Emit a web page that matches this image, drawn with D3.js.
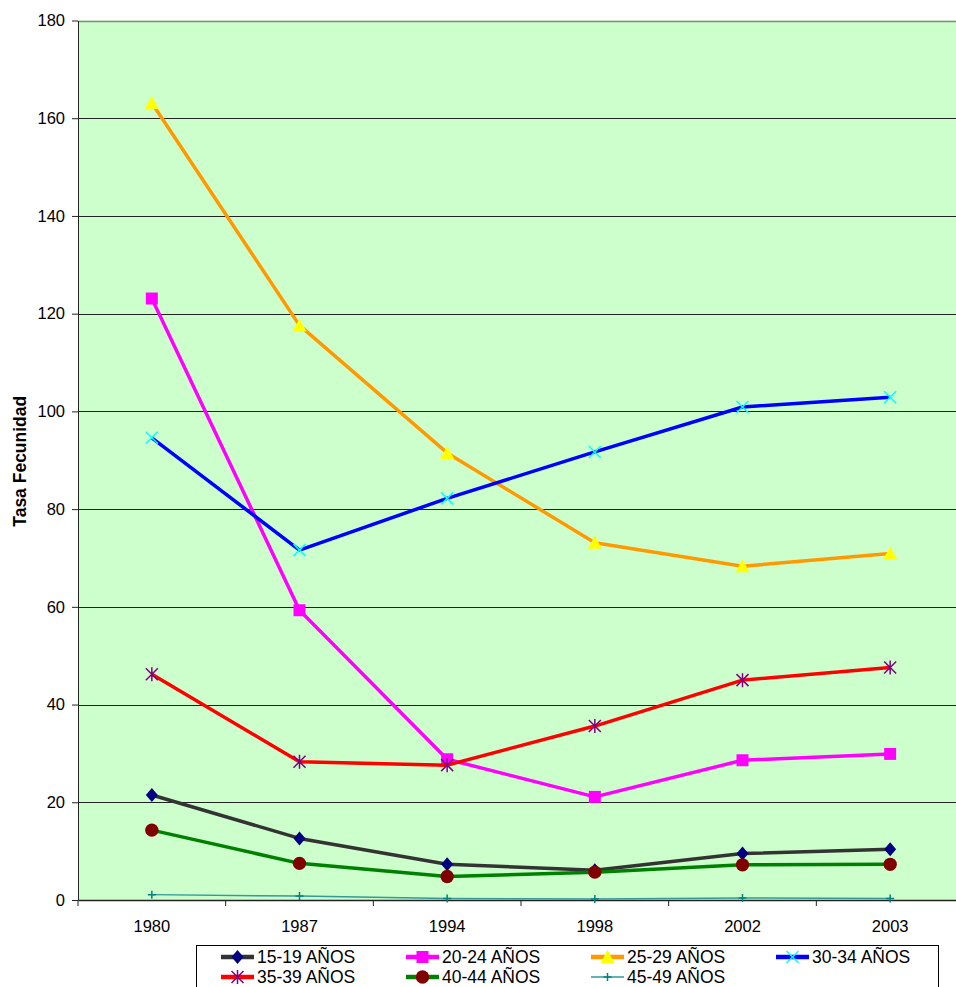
<!DOCTYPE HTML>
<html>

<head>
  <meta charset="utf-8">
  <title>Tasa Fecunidad</title>
  <script src="https://d3js.org/d3.v7.min.js"></script>
  <style>
    body { margin: 0; background: #fff; }
    text { font-family: "Liberation Sans", Arial, sans-serif; }
  </style>
</head>

<body>

  <script>
    const categories = ['1980', '1987', '1994', '1998', '2002', '2003'];

    // tasas por grupo de edad
    const s1519 = [21.5, 12.6, 7.3, 6.1, 9.5, 10.4];
    const s2024 = [123.1, 59.3, 28.8, 21.1, 28.6, 29.9];
    const s2529 = [163.1, 117.6, 91.5, 73.1, 68.3, 70.9];
    const s3034 = [94.6, 71.6, 82.2, 91.7, 100.9, 102.9];
    const s3539 = [46.2, 28.3, 27.6, 35.6, 45.0, 47.6];
    const s4044 = [14.3, 7.5, 4.8, 5.7, 7.2, 7.3];
    const s4549 = [1.1, 0.8, 0.3, 0.2, 0.4, 0.3];

    const seriesNames = ['15-19 AÑOS', '20-24 AÑOS', '25-29 AÑOS', '30-34 AÑOS', '35-39 AÑOS', '40-44 AÑOS', '45-49 AÑOS'];
    const yTicks = [0, 20, 40, 60, 80, 100, 120, 140, 160, 180];

    const styles = [
      { line: '#333333', width: 3.5, marker: 'diamond', fill: '#000080' },
      { line: '#ff00ff', width: 3.5, marker: 'square', fill: '#ff00ff' },
      { line: '#ff9900', width: 3.5, marker: 'triangle', fill: '#ffff00' },
      { line: '#0000ff', width: 3.5, marker: 'x', fill: '#00ffff' },
      { line: '#ff0000', width: 3.5, marker: 'star', fill: '#800080' },
      { line: '#008000', width: 3.5, marker: 'circle', fill: '#800000' },
      { line: '#339999', width: 1.5, marker: 'plus', fill: '#008080' },
    ];

    const series = [s1519, s2024, s2529, s3034, s3539, s4044, s4549].map((v, i) => ({
      name: seriesNames[i],
      values: v,
      style: styles[i],
    }));

    const W = 956, H = 987;
    const plot = { left: 78, top: 20.5, right: 964, bottom: 900 };

    const svg = d3.select('body').append('svg')
      .attr('width', W)
      .attr('height', H);

    const x = d3.scaleBand()
      .domain(categories)
      .range([plot.left, plot.right]);

    const y = d3.scaleLinear()
      .domain([0, 180])
      .range([plot.bottom, plot.top]);

    // fondo
    svg.append('rect')
      .attr('x', plot.left)
      .attr('y', plot.top)
      .attr('width', plot.right - plot.left)
      .attr('height', plot.bottom - plot.top)
      .attr('fill', '#ccffcc');

    // lineas de grilla
    svg.selectAll('line.grid')
      .data(yTicks.filter(d => d > 0))
      .enter()
      .append('line')
      .attr('class', 'grid')
      .attr('x1', plot.left)
      .attr('x2', plot.right)
      .attr('y1', d => Math.round(y(d)) + 0.5)
      .attr('y2', d => Math.round(y(d)) + 0.5)
      .attr('stroke', d => d === 180 ? '#888888' : '#222222')
      .attr('stroke-width', d => d === 180 ? 1.5 : 1);

    // eje Y
    const yAxis = svg.append('g')
      .attr('transform', `translate(${plot.left},0)`)
      .call(d3.axisLeft(y).tickValues(yTicks).tickSize(6).tickPadding(7).tickSizeOuter(0));
    yAxis.select('.domain').attr('stroke', '#222');
    yAxis.selectAll('.tick line').attr('stroke', '#222');
    yAxis.selectAll('text').attr('font-size', 16.5).attr('fill', '#000');

    // eje X: etiquetas en el centro, marcas entre categorias
    const xAxis = svg.append('g')
      .attr('transform', `translate(0,${plot.bottom})`)
      .call(d3.axisBottom(x).tickSize(0).tickPadding(20).tickSizeOuter(0));
    xAxis.select('.domain').attr('stroke', '#222').attr('stroke-width', 1.5);
    xAxis.selectAll('text').attr('font-size', 16.5).attr('fill', '#000');

    svg.selectAll('line.xtick')
      .data(categories)
      .enter()
      .append('line')
      .attr('class', 'xtick')
      .attr('x1', d => x(d))
      .attr('x2', d => x(d))
      .attr('y1', plot.bottom)
      .attr('y2', plot.bottom + 6)
      .attr('stroke', '#222');

    svg.append('text')
      .attr('transform', `translate(26,${(plot.top + plot.bottom) / 2 + 1}) rotate(-90)`)
      .attr('text-anchor', 'middle')
      .attr('font-size', 17.5)
      .attr('font-weight', 'bold')
      .text('Tasa Fecunidad');

    // marcadores
    const markerPath = (type) => {
      switch (type) {
        case 'diamond': return 'M0,-7L6,0L0,7L-6,0Z';
        case 'square': return 'M-6,-6H6V6H-6Z';
        case 'triangle': return 'M0,-7L7,6H-7Z';
        case 'circle': return d3.symbol(d3.symbolCircle, 140)();
        case 'x': return 'M-6,-6L6,6M-6,6L6,-6';
        case 'star': return 'M-6,-6L6,6M-6,6L6,-6M0,-7V7';
        case 'plus': return 'M-4,0H4M0,-4V4';
      }
    };
    const strokeMarker = t => t === 'x' || t === 'star' || t === 'plus';

    const cx = i => x(categories[i]) + x.bandwidth() / 2;

    const line = d3.line()
      .x((d, i) => cx(i))
      .y(d => y(d));

    series.forEach(s => {
      const g = svg.append('g');
      g.append('path')
        .datum(s.values)
        .attr('d', line)
        .attr('fill', 'none')
        .attr('stroke', s.style.line)
        .attr('stroke-width', s.style.width)
        .attr('stroke-linejoin', 'round');

      g.selectAll('path.mk')
        .data(s.values)
        .enter()
        .append('path')
        .attr('class', 'mk')
        .attr('transform', (d, i) => `translate(${cx(i)},${y(d)})`)
        .attr('d', markerPath(s.style.marker))
        .attr('fill', strokeMarker(s.style.marker) ? 'none' : s.style.fill)
        .attr('stroke', strokeMarker(s.style.marker) ? s.style.fill : 'none')
        .attr('stroke-width', 1.5);
    });

    // leyenda
    const legend = svg.append('g');
    legend.append('rect')
      .attr('x', 196.5)
      .attr('y', 945.5)
      .attr('width', 742)
      .attr('height', 80)
      .attr('fill', '#fff')
      .attr('stroke', '#000');

    const items = legend.selectAll('g.item')
      .data(series)
      .enter()
      .append('g')
      .attr('class', 'item')
      .attr('transform', (d, i) => `translate(${221 + (i % 4) * 185},${957 + Math.floor(i / 4) * 20})`);

    items.append('line')
      .attr('x1', 0)
      .attr('x2', 33)
      .attr('stroke', d => d.style.line)
      .attr('stroke-width', d => d.style.width > 2 ? 4.5 : 1.5);

    items.append('path')
      .attr('transform', 'translate(16.5,0)')
      .attr('d', d => markerPath(d.style.marker))
      .attr('fill', d => strokeMarker(d.style.marker) ? 'none' : d.style.fill)
      .attr('stroke', d => strokeMarker(d.style.marker) ? d.style.fill : 'none')
      .attr('stroke-width', 1.5);

    items.append('text')
      .attr('x', 36)
      .attr('dy', '0.36em')
      .attr('font-size', 17.5)
      .text(d => d.name);
  </script>

</body>

</html>
